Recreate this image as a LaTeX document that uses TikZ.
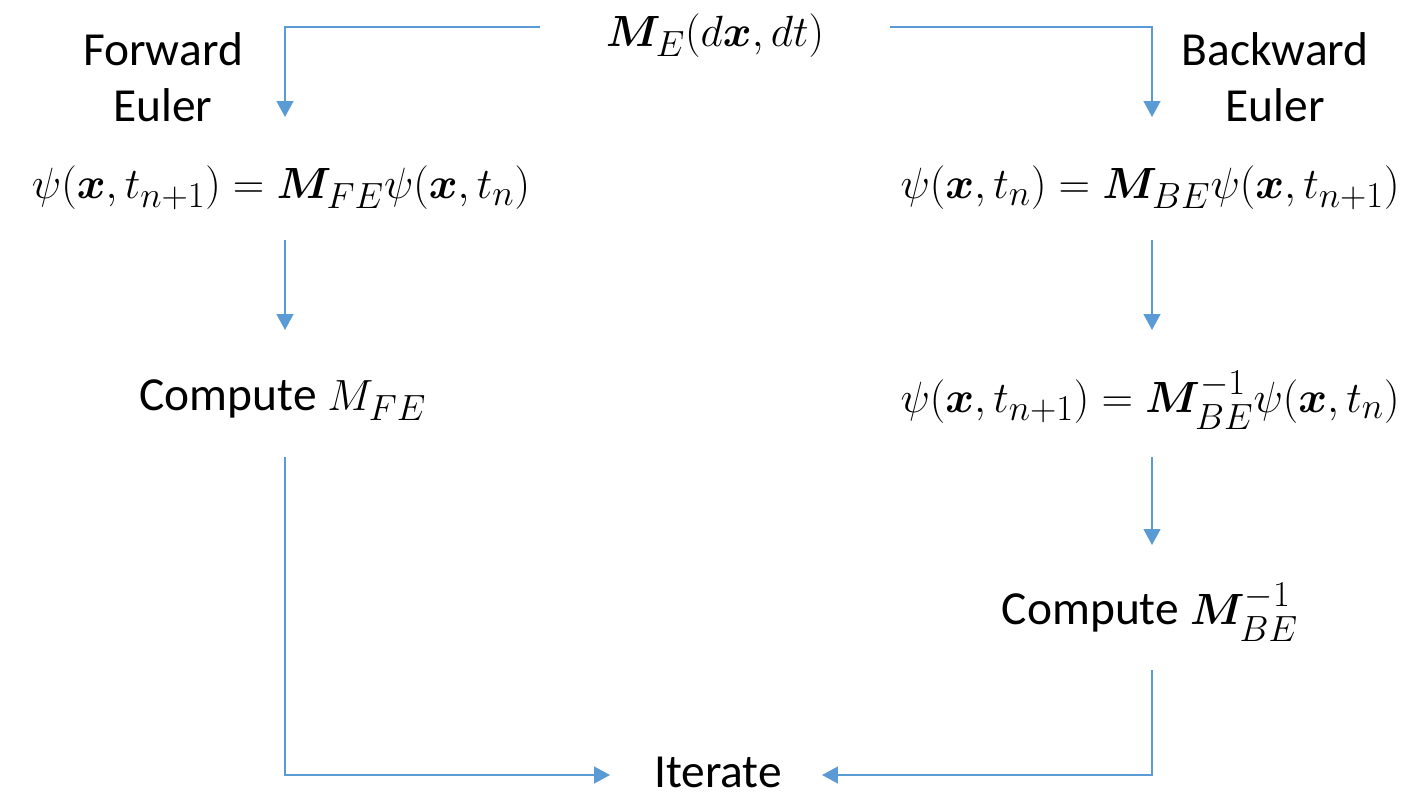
\documentclass[tikz,border=0pt]{standalone}
\usepackage{amsmath,bm}
\usepackage{fontspec}
\setmainfont{Carlito}
\usetikzlibrary{arrows.meta}
\definecolor{lineblue}{RGB}{91,155,213}
\tikzset{
  conn/.style={draw=lineblue, line width=1pt},
  arr/.style={conn, -{Triangle[length=9pt,width=9.5pt]}},
  lbl/.style={inner sep=0pt, font=\fontsize{27}{32}\selectfont, align=center},
  eq/.style={inner sep=0pt, font=\fontsize{30.5}{35}\selectfont}
}
\begin{document}
\begin{tikzpicture}[x=0.02cm, y=-0.02cm]
\useasboundingbox (0,0) rectangle (1422,798);
% nodes
\node[eq] (me) at (715,36) {$\bm{M}_{E}(d\bm{x},dt)$};
\node[lbl] (fe) at (163,77) {Forward\\Euler};
\node[lbl] (be) at (1275,77) {Backward\\Euler};
\node[eq] (eq1) at (281,188) {$\psi(\bm{x},t_{n+1})=\bm{M}_{FE}\psi(\bm{x},t_{n})$};
\node[eq] (eq2) at (1150,188) {$\psi(\bm{x},t_{n})=\bm{M}_{BE}\psi(\bm{x},t_{n+1})$};
\node[lbl] (cfe) at (283,400) {Compute {\fontsize{30.5}{35}\selectfont$M_{FE}$}};
\node[eq] (eq3) at (1150,400) {$\psi(\bm{x},t_{n+1})=\bm{M}_{BE}^{-1}\psi(\bm{x},t_{n})$};
\node[lbl] (cbe) at (1150,612) {Compute {\fontsize{30.5}{35}\selectfont$\bm{M}_{BE}^{-1}$}};
\node[lbl] (it) at (718,772) {Iterate};
% coordinates
\coordinate (tl0) at (540,27);
\coordinate (tl1) at (285,27);
\coordinate (tl2) at (285,117);
\coordinate (tr0) at (890,27);
\coordinate (tr1) at (1152,27);
\coordinate (tr2) at (1152,117);
\coordinate (l1a) at (285,240);
\coordinate (l1b) at (285,330);
\coordinate (r1a) at (1152,240);
\coordinate (r1b) at (1152,330);
\coordinate (r2a) at (1152,457);
\coordinate (r2b) at (1152,545);
\coordinate (l2a) at (285,457);
\coordinate (l2b) at (285,775);
\coordinate (l2c) at (610,775);
\coordinate (r3a) at (1152,670);
\coordinate (r3b) at (1152,775);
\coordinate (r3c) at (822,775);
% connectors
\draw[arr] (tl0) -- (tl1) -- (tl2);
\draw[arr] (tr0) -- (tr1) -- (tr2);
\draw[arr] (l1a) -- (l1b);
\draw[arr] (r1a) -- (r1b);
\draw[arr] (r2a) -- (r2b);
\draw[arr] (l2a) -- (l2b) -- (l2c);
\draw[arr] (r3a) -- (r3b) -- (r3c);
\end{tikzpicture}
\end{document}
